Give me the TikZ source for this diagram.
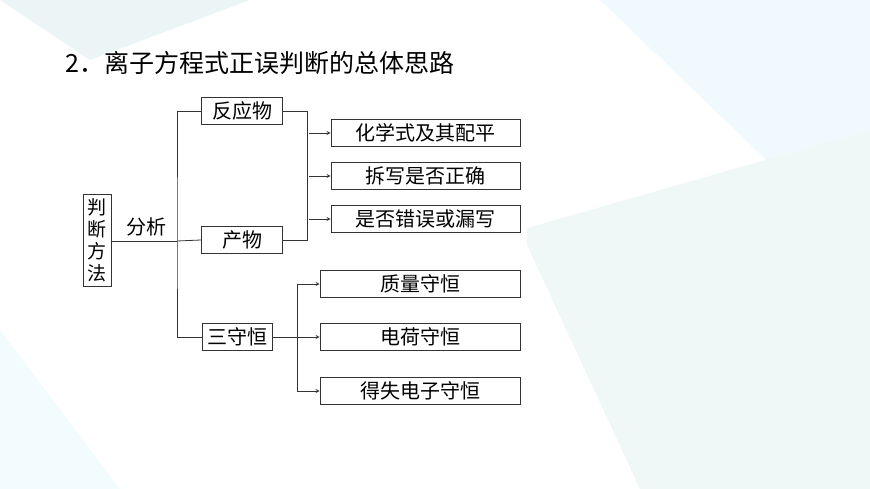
\documentclass[tikz,border=0pt]{standalone}
\usepackage{fontspec}
\newfontfamily\cjk{Noto Sans CJK SC}
\usetikzlibrary{positioning}
\tikzset{
  leaf/.style={draw=black!80, thick, minimum height=27pt, inner sep=0pt, font=\cjk\fontsize{20}{20}\selectfont},
  link/.style={draw=black!80, thick},
  arr/.style={link, ->, >=stealth}
}
\begin{document}
\begin{tikzpicture}[x=1pt, y=-1pt]
    \useasboundingbox (0,0) rectangle (870,489);
    % background
    \fill[cyan!6] (600,0) -- (870,0) -- (870,260) -- cycle;
    \fill[teal!8] (0,0) -- (250,0) -- (90,60) -- cycle;
    \fill[teal!6] (520,230) -- (870,130) -- (870,489) -- (640,489) -- cycle;
    \fill[cyan!5] (0,330) -- (120,489) -- (0,489) -- cycle;
    \fill[white] (75,92) rectangle (527,412);

    \node[anchor=west, font=\cjk\fontsize{25}{25}\selectfont] (title) at (62,63) {2．离子方程式正误判断的总体思路};

    % left box
    \node[leaf, minimum width=28pt, minimum height=92pt, align=center, font=\cjk\fontsize{19}{22}\selectfont] (root) at (97,240) {判\\断\\方\\法};
    \coordinate (spine) at (177,241);
    \node[font=\cjk\fontsize{20}{20}\selectfont] (fx) at (146,227) {分析};

    % middle
    \node[leaf, minimum width=81pt] (fyw) at (242,111) {反应物};
    \node[leaf, minimum width=81pt] (cw) at (242,240) {产物};
    \node[leaf, minimum width=70pt] (ssh) at (237,337) {三守恒};

    % right
    \foreach \n/\y/\t in {a/133/化学式及其配平, b/176/拆写是否正确, c/219/是否错误或漏写}
        \node[leaf, minimum width=189pt] (\n) at (425.5,\y) {\t};
    \foreach \n/\y/\t in {d/284/质量守恒, e/337/电荷守恒, f/391/得失电子守恒}
        \node[leaf, minimum width=200pt] (\n) at (420,\y) {\t};

    % links
    \draw[link] (root.east |- spine) -- (spine);
    \draw[link] (fyw.west) -| (spine) |- (ssh.west);
    \draw[link] (spine) -- (cw.west);
    \coordinate (j1) at (307,0);
    \draw[link] (fyw.east) -| (j1 |- cw.east) -- (cw.east);
    \foreach \n in {a,b,c}
        \draw[arr] (j1 |- \n.west) ++(2,0) -- (\n.west);
    \coordinate (j2) at (297,0);
    \draw[link] (ssh.east) -- (j2 |- ssh.east);
    \draw[link] (j2 |- d.west) -- (j2 |- f.west);
    \foreach \n in {d,e,f}
        \draw[arr] (j2 |- \n.west) -- (\n.west);
\end{tikzpicture}
\end{document}
